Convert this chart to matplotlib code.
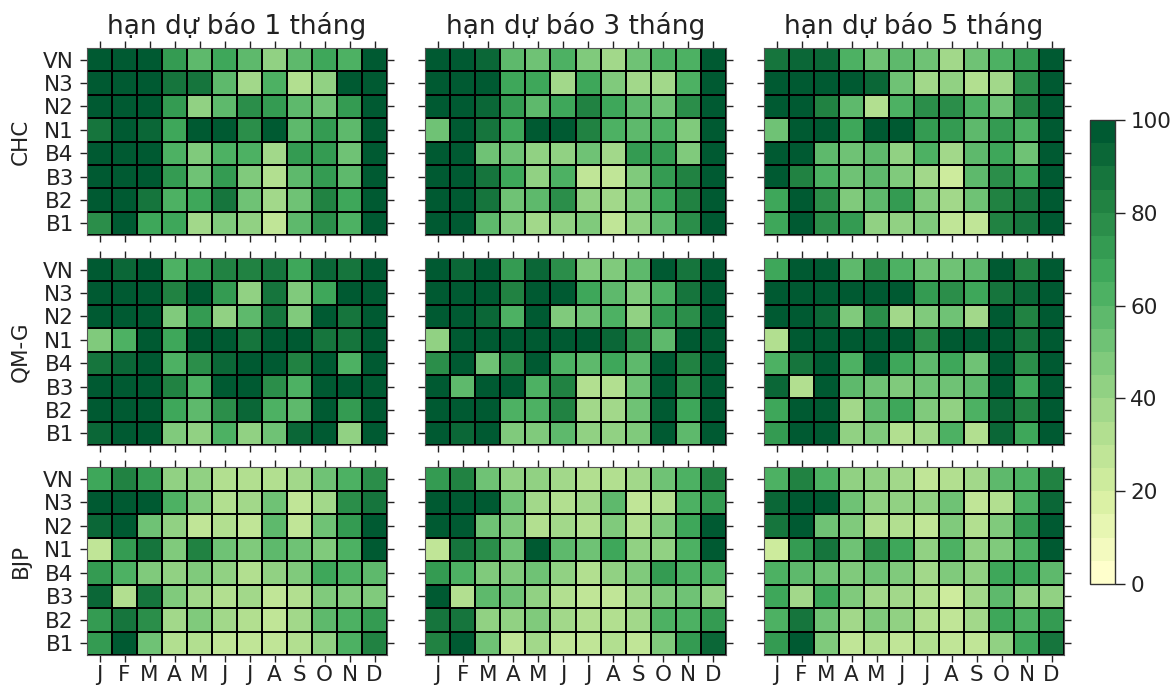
import matplotlib
import numpy as np
import matplotlib.pyplot as plt
from matplotlib.colors import LinearSegmentedColormap

matplotlib.use('Agg')

months = ['J', 'F', 'M', 'A', 'M', 'J', 'J', 'A', 'S', 'O', 'N', 'D']
regions = ['VN', 'N3', 'N2', 'N1', 'B4', 'B3', 'B2', 'B1']
leads = ['hạn dự báo 1 tháng', 'hạn dự báo 3 tháng', 'hạn dự báo 5 tháng']
models = ['CHC', 'QM-G', 'BJP']

chc_1 = [[97, 97, 97, 70, 57, 68, 55, 42, 58, 68, 60, 98],
         [98, 98, 97, 87, 88, 58, 38, 62, 30, 42, 98, 98],
         [98, 98, 95, 72, 40, 55, 78, 72, 55, 53, 72, 98],
         [88, 98, 93, 68, 99, 99, 77, 99, 58, 72, 57, 97],
         [98, 98, 97, 62, 47, 60, 62, 35, 72, 72, 52, 97],
         [98, 97, 95, 72, 50, 70, 47, 30, 58, 72, 55, 97],
         [98, 97, 85, 60, 67, 85, 52, 37, 52, 83, 67, 98],
         [78, 98, 68, 67, 37, 47, 42, 27, 58, 78, 63, 97]]
chc_3 = [[95, 97, 93, 55, 50, 62, 47, 37, 50, 60, 60, 98],
         [97, 97, 99, 65, 65, 35, 65, 45, 35, 35, 60, 98],
         [97, 97, 93, 70, 55, 65, 82, 65, 55, 50, 77, 98],
         [52, 97, 88, 65, 99, 95, 82, 62, 55, 63, 45, 98],
         [97, 97, 50, 50, 42, 40, 50, 36, 72, 70, 47, 98],
         [97, 98, 87, 67, 43, 60, 27, 27, 47, 72, 80, 98],
         [97, 98, 88, 50, 55, 78, 43, 38, 45, 65, 82, 98],
         [95, 97, 55, 47, 37, 43, 48, 26, 42, 57, 78, 95]]
chc_5 = [[85, 92, 90, 60, 53, 57, 50, 37, 50, 60, 72, 98],
         [95, 95, 98, 99, 93, 50, 37, 42, 31, 36, 77, 98],
         [95, 95, 83, 58, 31, 60, 77, 78, 60, 50, 82, 98],
         [50, 95, 97, 65, 99, 99, 72, 72, 55, 72, 62, 98],
         [95, 97, 58, 50, 57, 41, 60, 36, 55, 67, 52, 98],
         [97, 80, 63, 50, 55, 46, 37, 21, 55, 78, 65, 98],
         [68, 97, 78, 47, 55, 72, 47, 38, 50, 80, 85, 98],
         [68, 95, 75, 70, 40, 42, 48, 29, 27, 80, 85, 98]]
qm_1 = [[95, 93, 95, 62, 70, 83, 80, 87, 68, 93, 85, 95],
        [95, 95, 95, 80, 97, 70, 40, 88, 47, 68, 97, 96],
        [95, 95, 95, 47, 70, 40, 58, 88, 45, 95, 85, 96],
        [48, 62, 95, 68, 97, 95, 88, 95, 97, 85, 88, 96],
        [85, 92, 95, 63, 78, 93, 96, 97, 82, 95, 62, 96],
        [95, 95, 96, 82, 62, 96, 97, 78, 62, 96, 97, 96],
        [96, 96, 96, 65, 58, 76, 92, 60, 55, 96, 72, 96],
        [92, 96, 96, 48, 42, 62, 42, 50, 90, 96, 42, 96]]
qm_3 = [[95, 93, 95, 72, 92, 78, 47, 47, 55, 98, 88, 96],
        [96, 95, 96, 82, 97, 98, 65, 55, 45, 62, 85, 97],
        [96, 96, 92, 60, 97, 47, 53, 62, 40, 70, 76, 97],
        [40, 95, 95, 96, 96, 97, 97, 90, 78, 57, 96, 96],
        [77, 95, 50, 77, 97, 62, 58, 65, 57, 98, 83, 95],
        [95, 58, 95, 97, 60, 82, 30, 32, 50, 98, 78, 96],
        [97, 95, 97, 64, 60, 82, 35, 37, 53, 97, 68, 96],
        [96, 93, 97, 47, 48, 55, 42, 42, 46, 97, 55, 96]]
qm_5 = [[68, 95, 96, 55, 77, 60, 50, 53, 55, 95, 82, 96],
        [97, 96, 97, 97, 97, 98, 72, 77, 65, 87, 94, 96],
        [97, 95, 92, 49, 78, 37, 47, 53, 36, 96, 82, 96],
        [32, 96, 96, 97, 96, 98, 77, 96, 98, 96, 85, 96],
        [62, 87, 96, 60, 97, 67, 55, 68, 50, 96, 78, 96],
        [90, 32, 96, 55, 50, 46, 50, 50, 58, 98, 68, 96],
        [66, 96, 96, 36, 55, 65, 47, 40, 60, 93, 82, 96],
        [72, 96, 97, 43, 47, 33, 37, 64, 32, 94, 65, 95]]
bjp_1 = [[65, 80, 72, 43, 41, 32, 32, 31, 37, 52, 60, 78],
         [95, 98, 97, 60, 46, 33, 38, 52, 27, 38, 78, 85],
         [90, 98, 50, 41, 27, 33, 29, 55, 28, 52, 73, 97],
         [27, 72, 87, 47, 80, 52, 45, 57, 50, 47, 60, 95],
         [70, 62, 46, 43, 48, 42, 31, 44, 47, 65, 60, 55],
         [93, 32, 85, 47, 38, 33, 35, 28, 33, 47, 46, 47],
         [70, 85, 75, 38, 48, 37, 32, 28, 37, 56, 60, 70],
         [70, 97, 53, 30, 30, 25, 26, 26, 30, 43, 62, 82]]
bjp_3 = [[72, 82, 50, 42, 41, 38, 33, 31, 38, 52, 60, 80],
         [97, 97, 99, 52, 38, 33, 38, 57, 28, 32, 60, 72],
         [95, 97, 52, 46, 30, 37, 30, 48, 33, 47, 68, 98],
         [25, 85, 77, 52, 95, 57, 50, 65, 44, 43, 62, 95],
         [70, 60, 47, 46, 52, 43, 32, 42, 48, 72, 62, 60],
         [98, 33, 57, 52, 40, 32, 28, 28, 37, 47, 53, 43],
         [85, 85, 43, 43, 47, 38, 34, 30, 37, 64, 60, 70],
         [80, 95, 52, 25, 38, 25, 27, 31, 25, 47, 70, 92]]
bjp_5 = [[60, 80, 60, 42, 42, 39, 29, 34, 39, 55, 62, 80],
         [93, 97, 97, 53, 41, 40, 42, 52, 28, 33, 60, 92],
         [85, 97, 50, 47, 32, 34, 26, 49, 33, 46, 70, 98],
         [24, 72, 85, 53, 75, 65, 42, 63, 43, 47, 60, 96],
         [62, 58, 50, 48, 52, 45, 39, 45, 43, 65, 65, 57],
         [68, 37, 65, 48, 38, 39, 30, 24, 38, 55, 40, 42],
         [60, 85, 52, 38, 47, 40, 30, 27, 38, 65, 60, 72],
         [70, 95, 49, 28, 32, 28, 30, 29, 28, 44, 68, 88]]

panels = [[chc_1, chc_3, chc_5], [qm_1, qm_3, qm_5], [bjp_1, bjp_3, bjp_5]]

W, H = 1173, 692
col_x = [(87, 387), (425, 726), (764, 1064)]
row_y = [(48, 235), (258, 445), (467, 655)]


def px_axes(fig, x0, x1, y0, y1):
    # pixel box from the top left corner -> figure fractions
    return fig.add_axes([x0 / W, 1 - y1 / H, (x1 - x0) / W, (y1 - y0) / H])


fig = plt.figure(figsize=(W / 100, H / 100), dpi=100)
# 7 class YlGn, ends at a lighter dark green than the matplotlib one
cmap = LinearSegmentedColormap.from_list(
    'ylgn7', ['#ffffcc', '#d9f0a3', '#addd8e', '#78c679', '#41ab5d', '#238443', '#005a32'], N=20)

for r, row in enumerate(panels):
    for c, data in enumerate(row):
        ax = px_axes(fig, col_x[c][0], col_x[c][1], row_y[r][0], row_y[r][1])
        mesh = ax.pcolormesh(np.array(data), cmap=cmap, vmin=0, vmax=100,
                             edgecolors='black', linewidth=1.15)
        ax.invert_yaxis()
        ax.set_xticks(np.arange(12) + 0.5)
        ax.set_yticks(np.arange(8) + 0.5)
        ax.set_xticklabels(months if r == 2 else [])
        ax.set_yticklabels(regions if c == 0 else [])
        ax.tick_params(axis='both', top=True, right=True, length=5, width=1,
                       labelsize=15.5, color='#222222', labelcolor='#222222')
        ax.tick_params(axis='x', pad=2)
        ax.tick_params(axis='y', pad=4.5)
        for s in ax.spines.values():
            s.set_linewidth(0.8)
            s.set_color('#555555')
        if r == 0:
            ax.set_title(leads[c], fontsize=19, pad=10, color='#222222')
        if c == 0:
            ax.set_ylabel(models[r], fontsize=15.5, labelpad=9, color='#222222')

cax = px_axes(fig, 1090, 1115, 120, 584)
cb = fig.colorbar(mesh, cax=cax, ticks=[0, 20, 40, 60, 80, 100])
cb.ax.tick_params(length=7, width=1, labelsize=15.5, pad=4, color='#222222', labelcolor='#222222')
cb.outline.set_linewidth(1)
cb.outline.set_edgecolor('#333333')

fig.savefig('out.png', dpi=100)
plt.close()
